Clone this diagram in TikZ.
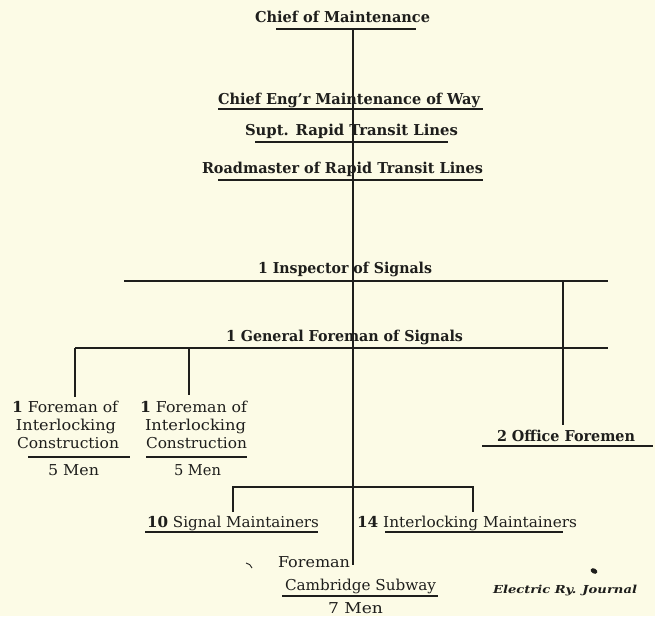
\documentclass[tikz,border=0pt]{standalone}
\usepackage{fontspec}
\setmainfont{DejaVu Serif}
\usepackage{graphicx}
\definecolor{paper}{RGB}{252,251,230}
\definecolor{ink}{RGB}{30,30,28}
\newcommand{\fitw}[2]{\resizebox{#1pt}{\height}{#2}}
\tikzset{
  lbl/.style={anchor=base west, inner sep=0pt, outer sep=0pt, text=ink, font=\fontsize{15}{17}\selectfont},
  hd/.style={lbl, font=\fontsize{15}{17}\selectfont\bfseries},
  rule/.style={draw=ink, line width=1.4pt},
  conn/.style={draw=ink, line width=1.3pt}
}
\begin{document}
\begin{tikzpicture}[x=1pt,y=-1pt]
\fill[paper] (0,0) rectangle (655,616);
\useasboundingbox (0,0) rectangle (655,616);

% ---- text nodes ----
\node[hd] (chief) at (255,22) {\fitw{175}{Chief of Maintenance}};
\node[hd] (eng)   at (218,104) {\fitw{262}{Chief Eng'r Maintenance of Way}};
\node[hd] (supt)  at (245,135) {\fitw{213}{Supt. Rapid Transit Lines}};
\node[hd] (road)  at (202,173) {\fitw{281}{Roadmaster of Rapid Transit Lines}};
\node[hd] (insp)  at (258,273) {\fitw{174}{1 Inspector of Signals}};
\node[hd] (genf)  at (226,341) {\fitw{237}{1 General Foreman of Signals}};

\node[lbl] (fa1) at (12,412) {\fitw{106}{\textbf{1} Foreman of}};
\node[lbl] (fa2) at (16,430) {\fitw{100}{Interlocking}};
\node[lbl] (fa3) at (17,448) {\fitw{102}{Construction}};
\node[lbl] (fam) at (48,475) {\fitw{51}{5 Men}};

\node[lbl] (fb1) at (140,412) {\fitw{107}{\textbf{1} Foreman of}};
\node[lbl] (fb2) at (145,430) {\fitw{101}{Interlocking}};
\node[lbl] (fb3) at (146,448) {\fitw{101}{Construction}};
\node[lbl] (fbm) at (174,475) {\fitw{47}{5 Men}};

\node[hd] (office) at (497,441) {\fitw{138}{2 Office Foremen}};

\node[lbl] (sig)  at (147,527) {\fitw{172}{\textbf{10} Signal Maintainers}};
\node[lbl] (intl) at (357,527) {\fitw{220}{\textbf{14} Interlocking Maintainers}};

\node[lbl] (frm)   at (278,567) {\fitw{72}{Foreman}};
\node[lbl] (camb)  at (285,590) {\fitw{151}{Cambridge Subway}};
\node[lbl] (seven) at (328,613) {\fitw{55}{7 Men}};

\node[lbl, font=\fontsize{11}{13}\selectfont\bfseries\itshape] (journal) at (493,593) {\fitw{144}{Electric Ry. Journal}};

% ---- coordinates ----
\coordinate (cmL) at (276,29);  \coordinate (cmR) at (416,29);  \coordinate (cmS) at (353,29);
\coordinate (ceL) at (218,109); \coordinate (ceR) at (483,109); \coordinate (ceS) at (353,109);
\coordinate (spL) at (255,142); \coordinate (spR) at (448,142); \coordinate (spS) at (353,142);
\coordinate (rmL) at (218,180); \coordinate (rmR) at (483,180); \coordinate (rmS) at (353,180);
\coordinate (isL) at (124,281); \coordinate (isR) at (608,281); \coordinate (isS) at (353,281); \coordinate (isO) at (563,281);
\coordinate (gfL) at (75,348);  \coordinate (gfR) at (608,348); \coordinate (gfS) at (353,348); \coordinate (gfA) at (189,348);
\coordinate (fa) at (75,397);   \coordinate (fb) at (189,395);
\coordinate (faL) at (28,457);  \coordinate (faR) at (130,457);
\coordinate (fbL) at (146,457); \coordinate (fbR) at (247,457);
\coordinate (of) at (563,425);
\coordinate (ofL) at (482,446); \coordinate (ofR) at (653,446);
\coordinate (mtS) at (353,487); \coordinate (mtL) at (233,487); \coordinate (mtR) at (473,487);
\coordinate (sm) at (233,512);  \coordinate (im) at (473,512);
\coordinate (smL) at (145,532); \coordinate (smR) at (318,532);
\coordinate (imL) at (385,532); \coordinate (imR) at (563,532);
\coordinate (fcS) at (353,565);
\coordinate (csL) at (282,596); \coordinate (csR) at (438,596);

% ---- rules (underlines) ----
\draw[rule] (cmL) -- (cmR);
\draw[rule] (ceL) -- (ceR);
\draw[rule] (spL) -- (spR);
\draw[rule] (rmL) -- (rmR);
\draw[rule] (isL) -- (isR);
\draw[rule] (gfL) -- (gfR);
\draw[rule] (faL) -- (faR);
\draw[rule] (fbL) -- (fbR);
\draw[rule] (ofL) -- (ofR);
\draw[rule] (smL) -- (smR);
\draw[rule] (imL) -- (imR);
\draw[rule] (csL) -- (csR);

% ---- connectors ----
\draw[conn] (cmS) -- (ceS) -- (spS) -- (rmS) -- (isS);
\draw[conn] (isS) -- (gfS);
\draw[conn] (gfS) -- (mtS) -- (fcS);
\draw[conn] (isO) -- (of);
\draw[conn] (gfL) -- (fa);
\draw[conn] (gfA) -- (fb);
\draw[conn] (sm) -- (mtL) -- (mtR) -- (im);

% ---- small print marks ----
\draw[ink, line width=0.9pt] (246,563) to[bend left=30] (252,568);
\fill[ink, rotate around={-30:(594,571)}] (594,571) ellipse (3.5pt and 2.5pt);
\end{tikzpicture}
\end{document}
